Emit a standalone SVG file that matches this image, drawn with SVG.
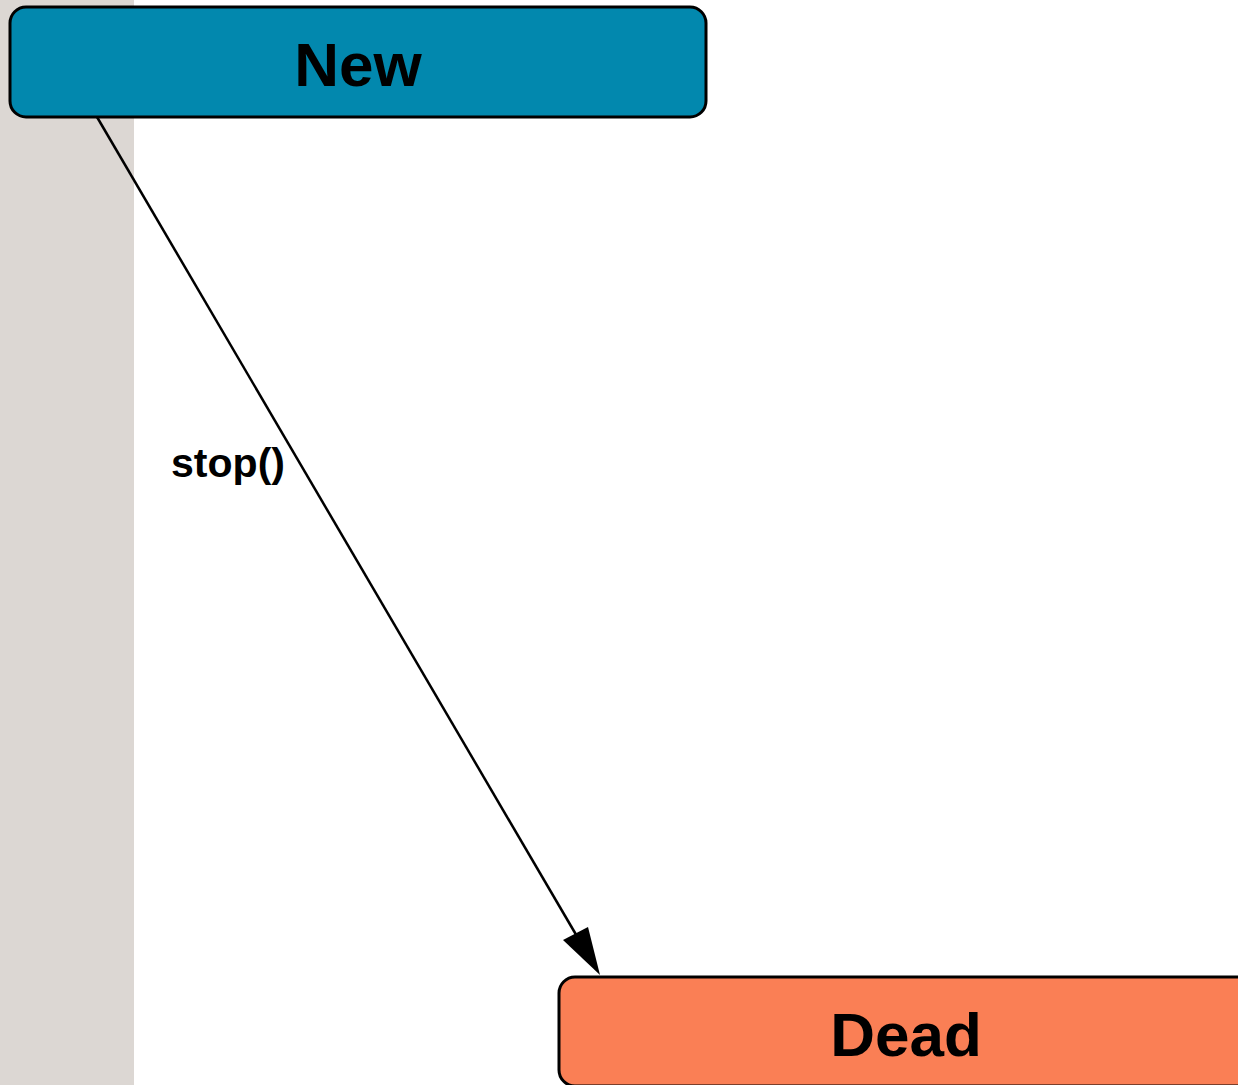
<svg xmlns="http://www.w3.org/2000/svg" width="1238" height="1085" viewBox="0 0 1238 1085">
  <style>
    .state { stroke: #000; stroke-width: 3; }
    .state-label { font-family: "Liberation Sans", Arial, sans-serif; font-weight: bold; font-size: 62px; text-anchor: middle; fill: #000; }
    .edge { stroke: #000; stroke-width: 2.5; fill: none; }
    .edge-label { font-family: "Liberation Sans", Arial, sans-serif; font-weight: bold; font-size: 41px; fill: #000; }
  </style>

  <rect width="1238" height="1085" fill="#ffffff"/>
  <!-- left swimlane band -->
  <rect x="0" y="0" width="134" height="1085" fill="#dcd7d3"/>

  <g id="connectors">
    <line class="edge" x1="97" y1="117" x2="578" y2="938"/>
    <polygon points="600,975 563,940 588,927" fill="#000"/>
    <text class="edge-label" x="171" y="477" textLength="114" lengthAdjust="spacingAndGlyphs">stop()</text>
  </g>

  <g id="node-new">
    <rect class="state" x="10" y="7" width="696" height="110" rx="16" ry="16" fill="#0288ae"/>
    <text class="state-label" x="358" y="86">New</text>
  </g>

  <g id="node-dead">
    <rect class="state" x="559" y="977" width="700" height="109" rx="16" ry="16" fill="#fa7f55"/>
    <text class="state-label" x="906" y="1056">Dead</text>
  </g>
</svg>
